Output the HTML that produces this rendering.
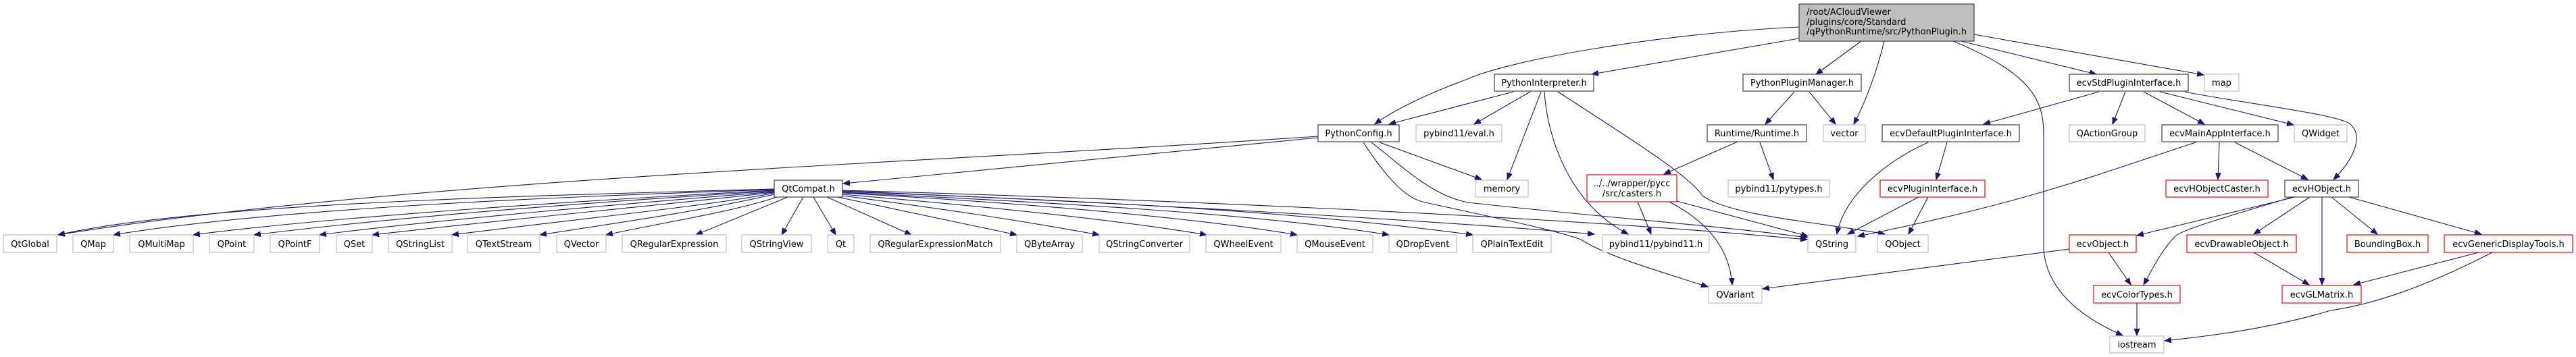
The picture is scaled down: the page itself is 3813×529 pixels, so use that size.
<!DOCTYPE html>
<html><head><meta charset="utf-8"><style>
html,body{margin:0;padding:0;background:#fff;}
svg{display:block;}
text{font-family:"DejaVu Sans","Liberation Sans",sans-serif;font-size:13px;fill:#000;}
.g{fill:#fff;stroke:#bfbfbf;stroke-width:1.2;}
.b{fill:#fff;stroke:#404040;stroke-width:1.2;}
.r{fill:#fff;stroke:#ff0000;stroke-width:1.2;}
.e{fill:none;stroke:#191970;stroke-width:1.1;marker-end:url(#a);}
</style></head><body>
<svg width="3813" height="529" viewBox="0 0 3813 529" xmlns="http://www.w3.org/2000/svg">
<defs><marker id="a" markerUnits="userSpaceOnUse" markerWidth="11" markerHeight="8" refX="10" refY="4" orient="auto"><path d="M0,0 L10,4 L0,8 z" fill="#191970" stroke="#191970"/></marker></defs>

<!-- edges -->
<g>
<!-- top node -->
<path class="e" d="M2663,40 C2450,50 2230,90 2170,118 C2110,140 2060,165 2035,184"/>
<path class="e" d="M2663,57 L2356,110"/>
<path class="e" d="M2755,61 L2688,110"/>
<path class="e" d="M2789,61 Q2772,130 2744,184"/>
<path class="e" d="M2903,61 L3103,110"/>
<path class="e" d="M2922,51 L3262,111"/>
<path class="e" d="M2891,61 C3010,110 3025,150 3025,200 L3025,370 C3030,430 3080,470 3142,497"/>
<!-- PythonInterpreter -->
<path class="e" d="M2240,136 L2056,184"/>
<path class="e" d="M2265,136 L2182,184"/>
<path class="e" d="M2281,136 L2231,266"/>
<path class="e" d="M2286,136 C2290,200 2320,300 2410,347"/>
<path class="e" d="M2306,136 C2420,210 2500,260 2520,290 C2560,320 2700,330 2790,347"/>
<!-- PythonPluginManager -->
<path class="e" d="M2656,136 L2613,184"/>
<path class="e" d="M2678,136 L2717,184"/>
<!-- Runtime -->
<path class="e" d="M2572,210 L2463,258"/>
<path class="e" d="M2605,211 L2625,266"/>
<!-- casters -->
<path class="e" d="M2424,299 L2444,347"/>
<path class="e" d="M2482,298 L2676,350"/>
<path class="e" d="M2471,299 C2530,330 2560,370 2564,422"/>
<!-- ecvStdPluginInterface -->
<path class="e" d="M3107,136 L2936,184"/>
<path class="e" d="M3146,136 L3127,184"/>
<path class="e" d="M3173,136 L3263,184"/>
<path class="e" d="M3197,136 L3395,185"/>
<path class="e" d="M3234,136 C3300,150 3470,170 3480,185 C3500,205 3480,240 3454,266"/>
<!-- ecvDefault -->
<path class="e" d="M2854,211 C2790,240 2730,290 2719,347"/>
<path class="e" d="M2882,211 L2866,266"/>
<!-- ecvPluginInterface -->
<path class="e" d="M2840,292 L2735,347"/>
<path class="e" d="M2854,292 L2825,347"/>
<!-- ecvMainApp -->
<path class="e" d="M3250,211 C3100,260 3000,300 2750,350"/>
<path class="e" d="M3285,211 L3283,266"/>
<path class="e" d="M3308,211 L3416,266"/>
<!-- ecvHObject -->
<path class="e" d="M3397,292 L3163,349"/>
<path class="e" d="M3393,292 C3300,320 3230,340 3220,350 C3200,370 3185,400 3173,422"/>
<path class="e" d="M3419,292 L3336,347"/>
<path class="e" d="M3437,292 L3437,422"/>
<path class="e" d="M3451,292 L3519,347"/>
<path class="e" d="M3477,292 L3673,347"/>
<!-- ecvObject etc -->
<path class="e" d="M3063,369 L2609,428"/>
<path class="e" d="M3121,374 L3154,422"/>
<path class="e" d="M3163,449 L3163,497"/>
<path class="e" d="M3336,374 L3418,422"/>
<path class="e" d="M3669,374 L3484,422"/>
<path class="e" d="M3689,374 C3600,420 3520,450 3450,460 C3350,490 3250,500 3204,505"/>
<!-- PythonConfig -->
<path class="e" d="M1951,204 L1920,207 L1248,272"/>
<path class="e" d="M1951,202 L1920,204 C1400,240 600,265 86,348"/>
<path class="e" d="M2042,211 L2193,266"/>
<path class="e" d="M2030,211 C2080,250 2120,290 2173,300 C2350,320 2550,335 2675,352"/>
<path class="e" d="M2018,211 C2050,260 2080,295 2110,300 C2200,320 2300,340 2340,355 C2380,380 2450,400 2528,425"/>
<!-- QtCompat -->
<path class="e" d="M1146,280 C800,290 300,300 86,348"/>
<path class="e" d="M1146,281 C800,292 400,310 168,348"/>
<path class="e" d="M1146,282 C900,295 500,320 286,348"/>
<path class="e" d="M1146,283 C900,298 600,320 376,348"/>
<path class="e" d="M1146,284 C950,300 650,325 473,348"/>
<path class="e" d="M1146,285 C1000,302 750,325 551,348"/>
<path class="e" d="M1146,286 C1050,305 850,325 669,348"/>
<path class="e" d="M1146,288 C1050,310 950,325 799,348"/>
<path class="e" d="M1150,292 C1080,315 980,330 897,348"/>
<path class="e" d="M1166,292 L1030,348"/>
<path class="e" d="M1189,292 L1157,348"/>
<path class="e" d="M1204,292 L1237,348"/>
<path class="e" d="M1224,292 L1349,348"/>
<path class="e" d="M1240,292 L1505,348"/>
<path class="e" d="M1247,290 C1400,310 1500,325 1627,348"/>
<path class="e" d="M1247,288 C1450,305 1650,325 1786,348"/>
<path class="e" d="M1247,286 C1500,300 1750,320 1920,348"/>
<path class="e" d="M1247,285 C1550,300 1850,315 2056,348"/>
<path class="e" d="M1247,284 C1550,295 1900,310 2180,348"/>
<path class="e" d="M1247,283 C1650,300 2100,325 2360,347"/>
<path class="e" d="M1247,282 C1700,295 2300,320 2675,355"/>
</g>

<!-- nodes -->
<rect class="b" x="2663" y="6" width="259" height="55" style="fill:#bfbfbf"/>
<text x="2674" y="22">/root/ACloudViewer</text>
<text x="2674" y="37">/plugins/core/Standard</text>
<text x="2674" y="51">/qPythonRuntime/src/PythonPlugin.h</text>

<g text-anchor="middle">
<rect class="b" x="2212" y="110" width="147" height="25"/><text x="2285.5" y="127">PythonInterpreter.h</text>
<rect class="b" x="2580" y="110" width="175" height="25"/><text x="2667.5" y="127">PythonPluginManager.h</text>
<rect class="b" x="3063" y="110" width="176" height="25"/><text x="3151" y="127">ecvStdPluginInterface.h</text>
<rect class="g" x="3263" y="110" width="51" height="25"/><text x="3288.5" y="127">map</text>

<rect class="b" x="1951" y="185" width="120" height="25"/><text x="2011" y="202">PythonConfig.h</text>
<rect class="g" x="2096" y="185" width="127" height="25"/><text x="2159.5" y="202">pybind11/eval.h</text>
<rect class="b" x="2527" y="185" width="147" height="25"/><text x="2600.5" y="202">Runtime/Runtime.h</text>
<rect class="g" x="2699" y="185" width="62" height="25"/><text x="2730" y="202">vector</text>
<rect class="b" x="2786" y="185" width="203" height="25"/><text x="2887.5" y="202">ecvDefaultPluginInterface.h</text>
<rect class="g" x="3063" y="185" width="112" height="25"/><text x="3119" y="202">QActionGroup</text>
<rect class="b" x="3200" y="185" width="172" height="25"/><text x="3286" y="202">ecvMainAppInterface.h</text>
<rect class="g" x="3396" y="185" width="78" height="25"/><text x="3435" y="202">QWidget</text>

<rect class="b" x="1146" y="267" width="101" height="25"/><text x="1196.5" y="284">QtCompat.h</text>
<rect class="g" x="2184" y="267" width="78" height="25"/><text x="2223" y="284">memory</text>
<rect class="r" x="2349" y="259" width="133" height="40"/><text x="2415.5" y="276">../../wrapper/pycc</text><text x="2415.5" y="291">/src/casters.h</text>
<rect class="g" x="2558" y="267" width="150" height="25"/><text x="2633" y="284">pybind11/pytypes.h</text>
<rect class="r" x="2783" y="267" width="155" height="25"/><text x="2860.5" y="284">ecvPluginInterface.h</text>
<rect class="r" x="3206" y="267" width="151" height="25"/><text x="3281.5" y="284">ecvHObjectCaster.h</text>
<rect class="b" x="3382" y="267" width="109" height="25"/><text x="3436.5" y="284">ecvHObject.h</text>

<rect class="g" x="5" y="348" width="79" height="26"/><text x="44.5" y="366">QtGlobal</text>
<rect class="g" x="108" y="348" width="60" height="26"/><text x="138" y="366">QMap</text>
<rect class="g" x="192" y="348" width="94" height="26"/><text x="239" y="366">QMultiMap</text>
<rect class="g" x="310" y="348" width="66" height="26"/><text x="343" y="366">QPoint</text>
<rect class="g" x="400" y="348" width="73" height="26"/><text x="436.5" y="366">QPointF</text>
<rect class="g" x="498" y="348" width="53" height="26"/><text x="524.5" y="366">QSet</text>
<rect class="g" x="575" y="348" width="94" height="26"/><text x="622" y="366">QStringList</text>
<rect class="g" x="692" y="348" width="107" height="26"/><text x="745.5" y="366">QTextStream</text>
<rect class="g" x="824" y="348" width="73" height="26"/><text x="860.5" y="366">QVector</text>
<rect class="g" x="921" y="348" width="154" height="26"/><text x="998" y="366">QRegularExpression</text>
<rect class="g" x="1098" y="348" width="103" height="26"/><text x="1149.5" y="366">QStringView</text>
<rect class="g" x="1225" y="348" width="39" height="26"/><text x="1244.5" y="366">Qt</text>
<rect class="g" x="1288" y="348" width="193" height="26"/><text x="1384.5" y="366">QRegularExpressionMatch</text>
<rect class="g" x="1505" y="348" width="97" height="26"/><text x="1553.5" y="366">QByteArray</text>
<rect class="g" x="1627" y="348" width="134" height="26"/><text x="1694" y="366">QStringConverter</text>
<rect class="g" x="1785" y="348" width="111" height="26"/><text x="1840.5" y="366">QWheelEvent</text>
<rect class="g" x="1920" y="348" width="112" height="26"/><text x="1976" y="366">QMouseEvent</text>
<rect class="g" x="2056" y="348" width="100" height="26"/><text x="2106" y="366">QDropEvent</text>
<rect class="g" x="2180" y="348" width="116" height="26"/><text x="2238" y="366">QPlainTextEdit</text>
<rect class="g" x="2372" y="348" width="158" height="26"/><text x="2451" y="366">pybind11/pybind11.h</text>
<rect class="g" x="2676" y="348" width="71" height="26"/><text x="2711.5" y="366">QString</text>
<rect class="g" x="2779" y="348" width="75" height="26"/><text x="2816.5" y="366">QObject</text>
<rect class="r" x="3063" y="348" width="99" height="26"/><text x="3112.5" y="366">ecvObject.h</text>
<rect class="r" x="3237" y="348" width="162" height="26"/><text x="3318" y="366">ecvDrawableObject.h</text>
<rect class="r" x="3474" y="348" width="120" height="26"/><text x="3534" y="366">BoundingBox.h</text>
<rect class="r" x="3618" y="348" width="190" height="26"/><text x="3713" y="366">ecvGenericDisplayTools.h</text>

<rect class="g" x="2529" y="423" width="79" height="26"/><text x="2568.5" y="441">QVariant</text>
<rect class="r" x="3099" y="423" width="128" height="26"/><text x="3163" y="441">ecvColorTypes.h</text>
<rect class="r" x="3378" y="423" width="117" height="26"/><text x="3436.5" y="441">ecvGLMatrix.h</text>

<rect class="g" x="3123" y="498" width="80" height="25"/><text x="3163" y="515">iostream</text>
</g>
</svg>
</body></html>
